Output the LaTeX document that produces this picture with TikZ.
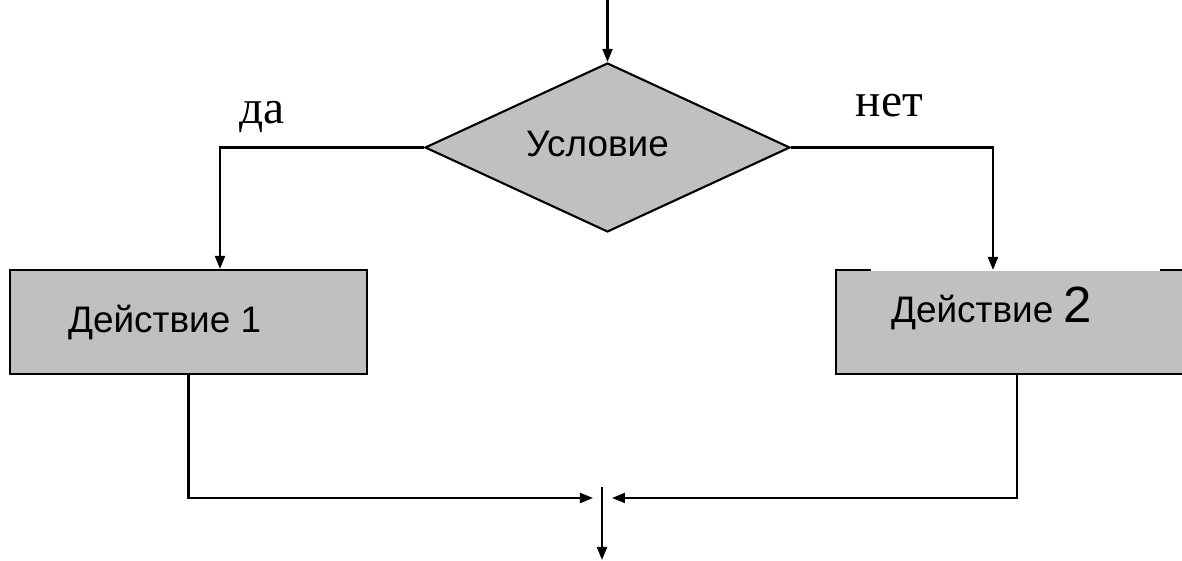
\documentclass[tikz,border=0pt]{standalone}
\usepackage{fontspec}
\setmainfont{Liberation Serif}
\setsansfont{Liberation Sans}
\usetikzlibrary{shapes.geometric}
\usetikzlibrary{arrows.meta}
\usetikzlibrary{calc}
\usetikzlibrary{positioning}
\definecolor{gray1}{RGB}{192, 192, 192}

\begin{document}
\begin{tikzpicture}[line width=0.6pt,
  flow/.style={-{Triangle[length=1.3mm,width=1mm]}},
  boxtext/.style={inner sep=0pt, font=\sffamily\fontsize{10.5}{12}\selectfont},
  branch/.style={inner sep=0pt, anchor=base, font=\fontsize{13.5}{15}\selectfont}]
  \useasboundingbox (0,0) rectangle (11.82,-5.61);
  \clip (0,0) rectangle (11.82,-5.61);
  \node[diamond,draw,fill=gray1, minimum width=3.65cm, minimum height=1.69cm, inner sep=0pt] (cond) at (6.075,-1.475) {};
  \node[boxtext] (tc) at (5.975,-1.44) {Условие};
  \node[rectangle,draw,fill=gray1, minimum width=3.57cm, minimum height=1.04cm, inner sep=0pt] (act1) at (1.885,-3.22) {};
  \node[rectangle,fill=gray1, minimum width=3.60cm, minimum height=1.02cm, inner sep=0pt] (act2) at (10.17,-3.22) {};
  \node[boxtext, anchor=base west] (t1) at (0.67,-3.33) {Действие 1};
  \node[boxtext, anchor=base west] (t2) at (8.90,-3.23) {Действие {\fontsize{14.5}{16}\selectfont 2}};
  \node[branch] (yes) at (2.62,-1.24) {да};
  \node[branch] (no) at (8.895,-1.17) {нет};
  \coordinate (in) at (6.075,0);
  \coordinate (join) at (6.02,-4.98);
  \coordinate (out) at (6.02,-5.60);
  % top border of act2 is broken
  \draw ($(act2.north west)+(0.35,0)$) -- (act2.north west) -- (act2.south west)
    -- (act2.south east) -- (act2.north east) -- ($(act2.north east)+(-0.38,0)$);
  \draw[flow] (in) -- (cond.north);
  \draw[flow] (cond.west) -| ($(act1.north)+(0.315,0)$);
  \draw[flow] (cond.east) -| ($(act2.north)+(-0.24,0)$);
  \draw[flow] (act1.south) |- ($(join)+(-0.09,0)$);
  \draw[flow] (act2.south) |- ($(join)+(0.10,0)$);
  \draw[flow] ($(join)+(0,0.11)$) -- (out);
\end{tikzpicture}
\end{document}
